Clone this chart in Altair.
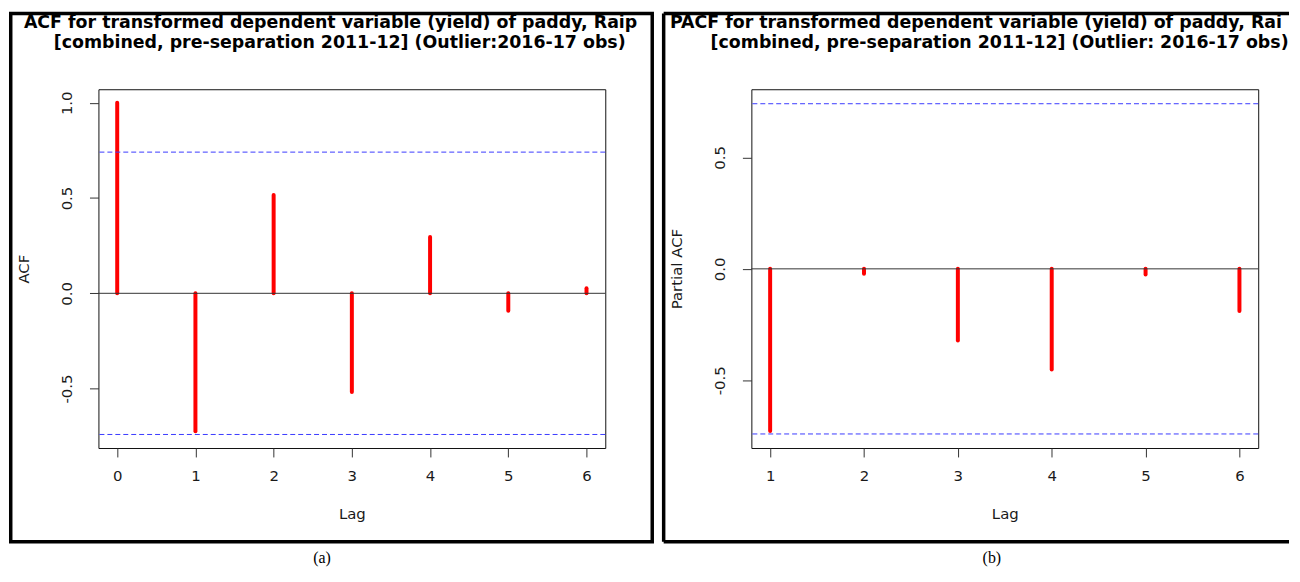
import altair as alt
import pandas as pd

# ---- data ----
acf_lags = [0, 1, 2, 3, 4, 5, 6]
acf_values = [1.0, -0.724, 0.516, -0.518, 0.295, -0.092, 0.026]
pacf_lags = [1, 2, 3, 4, 5, 6]
pacf_values = [-0.728, -0.022, -0.322, -0.452, -0.025, -0.189]
conf_limit = 0.741

# the titles are cut by the panel frames in the reference; the text marks
# below use a width limit so that only the visible part is drawn
acf_title = ["ACF for transformed dependent variable (yield) of paddy, Raipur",
             "[combined, pre-separation 2011-12] (Outlier:2016-17 obs)"]
pacf_title = ["PACF for transformed dependent variable (yield) of paddy, Raipur",
              "[combined, pre-separation 2011-12] (Outlier: 2016-17 obs)"]
captions = ["(a)", "(b)"]
acf_xticks = [0, 1, 2, 3, 4, 5, 6]
pacf_xticks = [1, 2, 3, 4, 5, 6]
acf_yticks = [-0.5, 0.0, 0.5, 1.0]
pacf_yticks = [-0.5, 0.0, 0.5]

W, H = 510, 361
AX_FONT = "DejaVu Sans"
TITLE_FONT = "DejaVu Sans"
ONE = alt.Data(values=[{}])

Y_LABEL_EXPR = ("datum.value < 0 ? '-' + format(-datum.value, '.1f') : "
                "format(datum.value, '.1f')")


def panel(lags, vals, xdom, ydom, xticks, yticks, ytitle, title_lines,
          title_x, title_limits, caption, caption_x, full_frame):
    df = pd.DataFrame({"lag": lags, "value": vals})
    x = alt.X("lag:Q",
              scale=alt.Scale(domain=xdom, nice=False, zero=False),
              axis=alt.Axis(values=xticks, format="d", title="Lag", grid=False,
                            domain=False, tickSize=9, tickColor="#333",
                            labelFont=AX_FONT, labelFontSize=15,
                            labelColor="#1a1a1a", labelPadding=19,
                            labelBaseline="middle", labelFlush=False,
                            labelOverlap=False, titleFont=AX_FONT,
                            titleFontSize=15, titleFontWeight="normal",
                            titleColor="#1a1a1a", titleX=W / 2, titleY=66,
                            titleBaseline="middle", titleAlign="center"))
    y = alt.Y("value:Q",
              scale=alt.Scale(domain=ydom, nice=False, zero=False),
              axis=alt.Axis(values=yticks, labelExpr=Y_LABEL_EXPR, title=ytitle,
                            grid=False, domain=False, tickSize=9,
                            tickColor="#333", labelFont=AX_FONT,
                            labelFontSize=15, labelColor="#1a1a1a",
                            labelAngle=270, labelAlign="center",
                            labelBaseline="middle", labelPadding=23.5,
                            labelOverlap=False, titleFont=AX_FONT,
                            titleFontSize=15, titleFontWeight="normal",
                            titleColor="#1a1a1a", titleAngle=270,
                            titleX=-75, titleY=H / 2, titleAlign="center",
                            titleBaseline="middle"))

    spikes = alt.Chart(df).mark_rule(color="#ff0000", strokeWidth=4,
                                     strokeCap="round").encode(
        x=x, y=y, y2=alt.datum(0))
    zero = alt.Chart(ONE).mark_rule(color="#333", strokeWidth=1).encode(
        y=alt.datum(0))
    ci_hi = alt.Chart(ONE).mark_rule(color="#3a3aff", strokeWidth=1,
                                     strokeDash=[5, 3]).encode(
        y=alt.datum(conf_limit))
    ci_lo = alt.Chart(ONE).mark_rule(color="#3a3aff", strokeWidth=1,
                                     strokeDash=[5, 3]).encode(
        y=alt.datum(-conf_limit))

    layers = [spikes, zero, ci_hi, ci_lo]

    for line, tx, ty, lim in zip(title_lines, title_x, [-61.5, -42],
                                 title_limits):
        layers.append(alt.Chart(ONE).mark_text(
            align="left", baseline="alphabetic", font=TITLE_FONT,
            fontWeight="bold", fontSize=17.5, color="black", limit=lim,
            ellipsis=" ").encode(
            x=alt.value(tx), y=alt.value(ty), text=alt.value(line)))

    # panel frame
    if full_frame:
        layers.append(alt.Chart(ONE).mark_rect(
            filled=False, stroke="black", strokeWidth=3.5).encode(
            x=alt.value(-88.25), x2=alt.value(557.25),
            y=alt.value(-76.25), y2=alt.value(455.25)))
    else:
        for (x1, x2, y1, y2) in [(-88.25, 541, -76.25, -76.25),
                                 (-88.25, 541, 455.25, 455.25),
                                 (-88.25, -88.25, -76.25, 455.25)]:
            layers.append(alt.Chart(ONE).mark_rule(
                color="black", strokeWidth=3.5).encode(
                x=alt.value(x1), x2=alt.value(x2),
                y=alt.value(y1), y2=alt.value(y2)))

    layers.append(alt.Chart(ONE).mark_text(
        align="center", baseline="alphabetic", font="Liberation Serif",
        fontSize=16, color="black").encode(
        x=alt.value(caption_x), y=alt.value(477), text=alt.value(caption)))

    return alt.layer(*layers).properties(width=W, height=H)


pa = panel(acf_lags, acf_values, [-0.24, 6.24], [-0.812, 1.071], acf_xticks,
           acf_yticks, "ACF", acf_title, [-75, -45], [631, 603], captions[0],
           225, True)
pb = panel(pacf_lags, pacf_values, [0.8, 6.2], [-0.804, 0.806], pacf_xticks,
           pacf_yticks, "Partial ACF", pacf_title, [-82, -41], [624, 584],
           captions[1], 242, False)

chart = alt.hconcat(pa, pb, spacing=6).properties(
    padding={"left": 0, "top": 1, "right": 0, "bottom": 0},
    background="white",
).configure_view(stroke="#111", strokeWidth=1)

chart.save("out.html", embed_options={"renderer": "svg", "actions": False})
